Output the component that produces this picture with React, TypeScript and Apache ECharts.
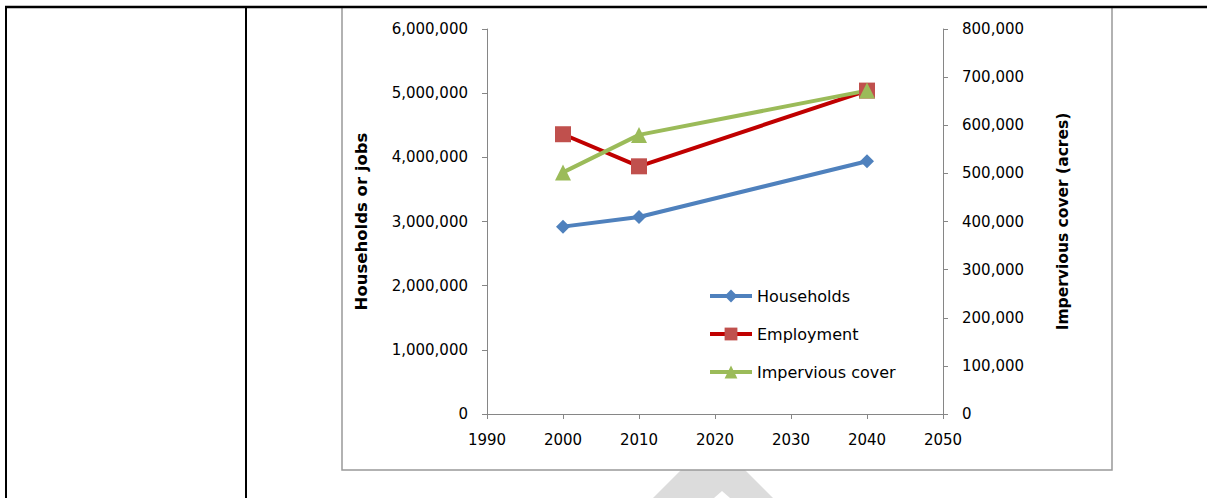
import React, { useEffect, useRef } from "react";
import * as echarts from "echarts";

const years = [2000, 2010, 2040];
const households = [2920000, 3070000, 3940000];
const employment = [4360000, 3860000, 5040000];
const impervious = [502000, 580000, 672000];
const seriesNames = ["Households", "Employment", "Impervious cover"];
const leftAxisTitle = "Households or jobs";
const rightAxisTitle = "Impervious cover (acres)";

const fmt = (v: number) => (v === 0 ? "0" : v.toLocaleString("en-US"));

export default function App() {
  const ref = useRef<HTMLDivElement>(null);
  useEffect(() => {
    const chart = echarts.init(ref.current!, null, { renderer: "svg" });
    const font = "DejaVu Sans";
    const axisLine = { show: true, lineStyle: { color: "#868686", width: 1 } };
    chart.setOption({
      animation: false,
      backgroundColor: "#ffffff",
      textStyle: { fontFamily: font },
      grid: { left: 487, right: 264, top: 29, bottom: 84 },
      xAxis: {
        type: "value",
        min: 1990,
        max: 2050,
        interval: 10,
        axisLine,
        axisTick: { show: true, length: 5, lineStyle: { color: "#868686" } },
        splitLine: { show: false },
        axisLabel: {
          color: "#000",
          fontSize: 15,
          margin: 18,
          fontFamily: font,
          formatter: (v: number) => String(v),
        },
      },
      yAxis: [
        {
          type: "value",
          min: 0,
          max: 6000000,
          interval: 1000000,
          position: "left",
          axisLine,
          axisTick: { show: true, length: 5, lineStyle: { color: "#868686" } },
          splitLine: { show: false },
          axisLabel: { color: "#000", fontSize: 15, margin: 19, formatter: fmt, fontFamily: font },
          name: leftAxisTitle,
          nameLocation: "middle",
          nameRotate: 90,
          nameGap: 117,
          nameTextStyle: { color: "#000", fontSize: 16.5, fontWeight: "bold", fontFamily: font },
        },
        {
          type: "value",
          min: 0,
          max: 800000,
          interval: 100000,
          position: "right",
          axisLine,
          axisTick: { show: true, length: 5, lineStyle: { color: "#868686" } },
          splitLine: { show: false },
          axisLabel: { color: "#000", fontSize: 15, margin: 19, formatter: fmt, fontFamily: font },
          name: rightAxisTitle,
          nameLocation: "middle",
          nameRotate: 90,
          nameGap: 112,
          nameTextStyle: { color: "#000", fontSize: 15.5, fontWeight: "bold", fontFamily: font },
        },
      ],
      legend: {
        orient: "vertical",
        left: 708,
        top: 288,
        padding: 0,
        itemWidth: 42,
        itemHeight: 16,
        itemGap: 22,
        lineStyle: { width: 4 },
        textStyle: { color: "#000", fontSize: 16, fontFamily: font },
        data: seriesNames,
      },
      series: [
        {
          name: seriesNames[0],
          type: "line",
          yAxisIndex: 0,
          data: years.map((y, i) => [y, households[i]]),
          symbol: "diamond",
          symbolSize: 14,
          lineStyle: { color: "#4f81bd", width: 4 },
          itemStyle: { color: "#4f81bd" },
        },
        {
          name: seriesNames[1],
          type: "line",
          yAxisIndex: 0,
          data: years.map((y, i) => [y, employment[i]]),
          symbol: "rect",
          symbolSize: 16,
          lineStyle: { color: "#c00000", width: 4 },
          itemStyle: { color: "#c0504d" },
        },
        {
          name: seriesNames[2],
          type: "line",
          yAxisIndex: 1,
          data: years.map((y, i) => [y, impervious[i]]),
          symbol: "triangle",
          symbolSize: 16,
          lineStyle: { color: "#9bbb59", width: 4 },
          itemStyle: { color: "#9bbb59" },
        },
      ],
      graphic: [
        {
          type: "polygon",
          silent: true,
          z: -10,
          shape: { points: [[681, 470], [745, 470], [773, 498], [653, 498]] },
          style: { fill: "#dcdcdc" },
        },
        {
          type: "polygon",
          silent: true,
          z: -9,
          shape: { points: [[722, 491], [730, 498], [714, 498]] },
          style: { fill: "#ffffff" },
        },
        {
          type: "rect",
          silent: true,
          z: -8,
          shape: { x: 342, y: 7, width: 770, height: 463 },
          style: { fill: "#ffffff", stroke: "#999999", lineWidth: 1.5 },
        },
        {
          type: "line",
          silent: true,
          shape: { x1: 5, y1: 7, x2: 1207, y2: 7 },
          style: { stroke: "#000", lineWidth: 2.5 },
        },
        {
          type: "line",
          silent: true,
          shape: { x1: 6, y1: 6, x2: 6, y2: 498 },
          style: { stroke: "#000", lineWidth: 2 },
        },
        {
          type: "line",
          silent: true,
          shape: { x1: 246, y1: 6, x2: 246, y2: 498 },
          style: { stroke: "#000", lineWidth: 2 },
        },
      ],
    });
    return () => chart.dispose();
  }, []);
  return (
    <div
      ref={ref}
      style={{ position: "fixed", left: 0, top: 0, width: 1207, height: 498 }}
    />
  );
}
